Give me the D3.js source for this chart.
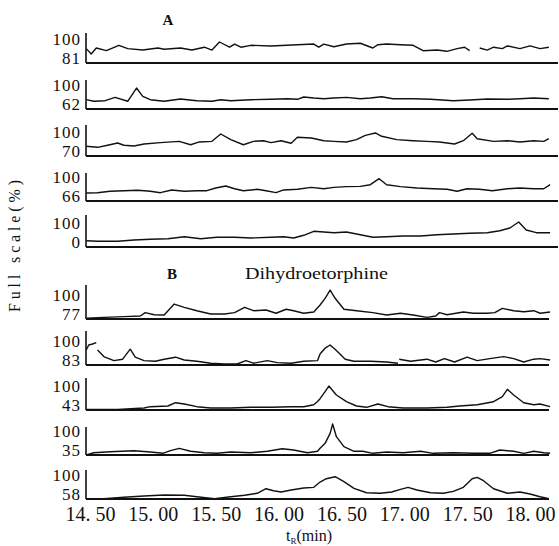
<!DOCTYPE html>
<html>
<head>
<meta charset="utf-8">
<script src="https://cdn.jsdelivr.net/npm/d3@7"></script>
<style>
  html, body { margin: 0; padding: 0; background: #fff; }
  svg text { font-family: "Liberation Serif", "DejaVu Serif", serif; fill: #111; }
</style>
</head>
<body>
<svg id="chart" width="559" height="546"></svg>
<script>
// ---- data (t in min, intensity in % full scale) ----
const xTicks = [14.5, 15.0, 15.5, 16.0, 16.5, 17.0, 17.5, 18.0];
const lowA = [81, 62, 70, 66, 0];
const lowB = [77, 83, 43, 35, 58];

const traceA1 = [[14.47,90.1],[14.51,86.7],[14.55,90.5],[14.63,88.8],[14.73,92.2],[14.80,90.1],[14.92,89.2],[15.04,90.5],[15.09,89.7],[15.22,90.5],[15.31,89.2],[15.41,91.0],[15.47,89.2],[15.53,94.3],[15.61,91.0],[15.65,93.0],[15.70,91.0],[15.78,92.2],[15.94,91.8],[16.15,92.6],[16.28,93.0],[16.32,91.0],[16.36,93.0],[16.44,91.3],[16.54,93.0],[16.65,93.5],[16.75,90.5],[16.79,92.6],[16.86,93.0],[16.97,92.6],[17.07,92.2],[17.15,88.8],[17.26,89.2],[17.34,88.4],[17.42,90.1],[17.48,91.0],[17.52,88.8],[17.56,null],[17.60,90.5],[17.66,89.2],[17.71,91.0],[17.78,90.1],[17.82,91.8],[17.92,90.1],[18.00,91.8],[18.08,90.1],[18.15,91.0]];
const traceA2 = [[14.47,74.2],[14.53,72.1],[14.62,72.9],[14.70,77.3],[14.80,72.1],[14.87,89.5],[14.92,78.6],[14.98,74.2],[15.09,72.1],[15.22,75.1],[15.35,72.9],[15.47,72.1],[15.54,74.2],[15.62,72.9],[15.78,74.2],[15.94,74.7],[16.07,75.5],[16.15,74.7],[16.20,77.7],[16.28,76.4],[16.36,75.5],[16.44,76.4],[16.54,77.3],[16.65,75.5],[16.73,76.4],[16.82,78.1],[16.91,75.5],[17.07,75.5],[17.21,74.7],[17.39,72.9],[17.52,73.8],[17.66,75.1],[17.82,74.7],[17.92,75.5],[18.03,76.4],[18.15,75.5]];
const traceA3 = [[14.47,79.4],[14.56,78.4],[14.64,80.4],[14.72,82.6],[14.77,80.4],[14.85,79.7],[14.93,81.6],[15.06,82.9],[15.21,84.2],[15.30,80.9],[15.37,83.6],[15.47,84.2],[15.54,91.3],[15.62,85.8],[15.72,80.9],[15.80,84.2],[15.88,84.8],[15.94,82.9],[16.02,84.8],[16.10,82.3],[16.15,88.1],[16.26,87.4],[16.36,84.8],[16.44,84.2],[16.54,83.6],[16.62,85.8],[16.69,90.0],[16.77,92.3],[16.82,89.1],[16.94,85.8],[17.07,84.8],[17.18,84.2],[17.28,83.6],[17.40,81.6],[17.47,84.8],[17.54,92.0],[17.58,86.7],[17.71,84.2],[17.82,84.8],[17.92,83.6],[18.03,84.8],[18.11,84.2],[18.15,86.7]];
const traceA4 = [[14.47,75.7],[14.56,76.1],[14.66,77.8],[14.77,78.5],[14.88,79.0],[14.98,77.8],[15.06,76.1],[15.15,79.4],[15.25,77.8],[15.35,78.5],[15.43,78.5],[15.50,81.8],[15.58,84.2],[15.65,80.9],[15.72,78.5],[15.83,80.2],[15.90,78.5],[15.98,76.1],[16.04,79.4],[16.15,80.2],[16.26,82.6],[16.36,80.9],[16.44,82.6],[16.54,83.4],[16.65,83.8],[16.73,85.8],[16.80,93.1],[16.86,85.8],[16.97,83.4],[17.10,81.8],[17.23,80.9],[17.34,80.2],[17.42,77.8],[17.50,80.9],[17.60,80.2],[17.70,78.5],[17.82,80.9],[17.92,81.8],[18.03,80.9],[18.11,80.9],[18.16,85.8]];
const traceA5 = [[14.47,19.7],[14.56,17.8],[14.72,17.8],[14.85,21.9],[14.98,24.1],[15.12,25.9],[15.25,32.2],[15.38,25.9],[15.51,30.3],[15.65,30.3],[15.78,28.1],[15.94,30.3],[16.04,32.2],[16.12,28.1],[16.20,36.6],[16.28,49.1],[16.36,46.9],[16.44,44.7],[16.54,46.9],[16.65,38.4],[16.75,30.3],[16.86,32.2],[16.99,34.4],[17.13,34.4],[17.26,38.4],[17.39,40.6],[17.52,42.8],[17.66,44.7],[17.76,50.9],[17.84,59.4],[17.91,78.1],[17.97,53.1],[18.05,44.7],[18.16,44.7]];

const traceB1 = [[14.47,77.5],[14.61,78.1],[14.77,78.6],[14.90,79.0],[14.94,81.3],[15.01,79.9],[15.09,79.7],[15.17,87.1],[15.25,84.9],[15.35,82.6],[15.46,80.4],[15.57,80.4],[15.65,81.3],[15.73,84.9],[15.80,82.6],[15.90,83.1],[15.98,80.9],[16.06,83.6],[16.12,82.6],[16.20,80.9],[16.28,81.7],[16.33,86.5],[16.37,91.0],[16.41,96.6],[16.45,91.0],[16.52,83.6],[16.62,82.6],[16.75,81.3],[16.86,79.7],[16.97,80.9],[17.07,79.7],[17.18,78.1],[17.25,79.0],[17.28,81.3],[17.34,79.9],[17.47,81.7],[17.55,80.9],[17.66,80.9],[17.72,81.3],[17.78,84.2],[17.87,82.6],[17.95,81.9],[18.03,82.6],[18.08,80.9],[18.16,81.7]];
const traceB2 = [[14.47,90.5],[14.49,93.0],[14.52,93.5],[14.55,94.2],[14.555,null],[14.56,90.5],[14.61,87.2],[14.69,85.2],[14.76,85.9],[14.82,90.9],[14.86,86.9],[14.93,85.2],[15.02,84.9],[15.09,85.9],[15.18,86.9],[15.25,85.5],[15.35,84.9],[15.46,83.9],[15.57,83.5],[15.67,83.5],[15.74,85.2],[15.80,83.9],[15.91,85.2],[15.99,84.2],[16.10,83.9],[16.20,84.9],[16.31,85.2],[16.33,88.5],[16.37,91.4],[16.41,93.0],[16.46,90.2],[16.53,85.9],[16.60,84.9],[16.73,84.9],[16.86,84.5],[16.95,83.9],[16.955,null],[16.96,85.9],[17.05,84.9],[17.18,85.9],[17.25,84.5],[17.32,86.2],[17.40,84.5],[17.50,86.9],[17.58,85.2],[17.68,86.2],[17.79,87.2],[17.87,86.2],[17.95,84.5],[18.03,85.9],[18.08,86.2],[18.16,85.5]];
const traceB3 = [[14.47,44.2],[14.72,44.2],[14.93,46.6],[14.98,48.9],[15.12,50.1],[15.18,56.0],[15.25,53.7],[15.35,48.9],[15.46,46.6],[15.62,46.6],[15.78,47.8],[15.94,47.8],[16.10,48.9],[16.20,48.9],[16.28,52.4],[16.31,58.0],[16.33,63.1],[16.37,75.6],[16.40,85.7],[16.46,69.7],[16.54,57.8],[16.62,50.1],[16.70,47.8],[16.79,53.7],[16.87,48.9],[16.99,46.6],[17.18,46.6],[17.34,47.8],[17.44,50.1],[17.58,52.4],[17.71,57.8],[17.78,66.7],[17.82,79.9],[17.87,69.7],[17.95,56.0],[18.03,52.4],[18.08,53.7],[18.16,48.9]];
const traceB4 = [[14.47,35.0],[14.53,40.3],[14.66,42.7],[14.85,45.0],[14.98,42.0],[15.08,38.9],[15.14,45.0],[15.21,50.5],[15.30,43.6],[15.41,40.3],[15.51,38.9],[15.62,42.0],[15.78,40.3],[15.91,43.6],[16.03,49.6],[16.12,46.6],[16.23,40.3],[16.31,43.6],[16.33,50.5],[16.37,62.1],[16.41,85.3],[16.43,106.9],[16.46,77.5],[16.52,54.3],[16.60,43.6],[16.67,43.6],[16.75,38.9],[16.86,42.0],[16.99,40.3],[17.13,43.6],[17.23,38.9],[17.39,40.3],[17.55,38.9],[17.68,38.9],[17.76,46.6],[17.87,43.6],[17.95,38.9],[18.03,43.6],[18.11,40.3],[18.16,38.9]];
const traceB5 = [[14.47,58.0],[14.61,58.4],[14.77,60.5],[14.93,62.3],[15.09,63.8],[15.25,63.4],[15.35,61.3],[15.49,58.4],[15.62,61.3],[15.73,63.4],[15.83,66.3],[15.90,72.9],[15.96,70.0],[16.02,68.1],[16.10,71.0],[16.20,73.9],[16.28,74.9],[16.33,82.6],[16.38,87.4],[16.45,90.3],[16.52,83.1],[16.60,73.5],[16.70,67.1],[16.81,66.3],[16.90,68.1],[16.97,72.0],[17.03,74.9],[17.10,71.0],[17.21,67.1],[17.31,66.3],[17.39,69.1],[17.47,74.9],[17.54,87.4],[17.58,89.4],[17.63,84.5],[17.71,72.9],[17.82,66.3],[17.92,68.1],[18.00,65.2],[18.08,61.3],[18.15,58.4]];

const tracesA = [traceA1, traceA2, traceA3, traceA4, traceA5];
const tracesB = [traceB1, traceB2, traceB3, traceB4, traceB5];

// ---- layout ----
const stripBaseA = [63, 109, 156, 201, 247];
const stripTopA = [33, 80, 125, 173, 215];
const stripBaseB = [319, 365, 410, 455, 499];
const stripTopB = [285, 331, 378, 427, 470];
const axisX = 86;

const svg = d3.select("#chart");
const x = d3.scaleLinear().domain([14.5, 18.0]).range([90, 530]);

function drawStrip(base, top, low, data, rightEnd) {
  const y = d3.scaleLinear().domain([low, 100]).range([base, top]);
  const g = svg.append("g");

  // left axis line
  g.append("line")
    .attr("x1", axisX).attr("x2", axisX)
    .attr("y1", y(100)).attr("y2", base)
    .attr("stroke", "#111").attr("stroke-width", 1.6);

  // baseline
  g.append("line")
    .attr("x1", axisX).attr("x2", rightEnd)
    .attr("y1", y(low)).attr("y2", y(low))
    .attr("stroke", "#111").attr("stroke-width", 1.8);

  // trace
  const line = d3.line()
    .defined((d) => d[1] != null)
    .x((d) => x(d[0]))
    .y((d) => y(d[1]));
  g.append("path")
    .datum(data)
    .attr("d", line)
    .attr("fill", "none")
    .attr("stroke", "#111")
    .attr("stroke-width", 1.4)
    .attr("stroke-linejoin", "round");

  // range labels
  g.append("text")
    .attr("x", 81).attr("y", base - 24)
    .attr("text-anchor", "end")
    .attr("dominant-baseline", "central")
    .attr("font-size", 17).attr("letter-spacing", 1)
    .text("100");
  g.append("text")
    .attr("x", 81).attr("y", base - 5)
    .attr("text-anchor", "end")
    .attr("dominant-baseline", "central")
    .attr("font-size", 17).attr("letter-spacing", 1)
    .text(String(low));
}

tracesA.forEach((d, i) => drawStrip(stripBaseA[i], stripTopA[i], lowA[i], d, 558));
tracesB.forEach((d, i) => drawStrip(stripBaseB[i], stripTopB[i], lowB[i], d, 549));

// x axis labels
const xAxis = d3.axisBottom(x)
  .tickValues(xTicks)
  .tickSize(0)
  .tickPadding(3)
  .tickFormat((d) => d.toFixed(2).replace(".", ". "));
const gx = svg.append("g").attr("transform", "translate(0,504)").call(xAxis);
gx.select(".domain").remove();
gx.selectAll("text")
  .attr("font-size", 20)
  .style("font-family", '"Liberation Serif", "DejaVu Serif", serif')
  .attr("fill", "#111");

// titles
svg.append("text").attr("x", 168).attr("y", 25)
  .attr("text-anchor", "middle").attr("font-size", 15).attr("font-weight", "bold")
  .text("A");
svg.append("text").attr("x", 172).attr("y", 279)
  .attr("text-anchor", "middle").attr("font-size", 15).attr("font-weight", "bold")
  .text("B");
svg.append("text").attr("x", 245).attr("y", 279)
  .attr("font-size", 16).attr("textLength", 143).attr("lengthAdjust", "spacingAndGlyphs")
  .text("Dihydroetorphine");

svg.append("text")
  .attr("transform", "translate(20,246) rotate(-90)")
  .attr("text-anchor", "middle")
  .attr("font-size", 16)
  .attr("textLength", 132).attr("lengthAdjust", "spacing")
  .text("Full scale(%)");

const xt = svg.append("text").attr("x", 309).attr("y", 541)
  .attr("text-anchor", "middle").attr("font-size", 16);
xt.append("tspan").text("t");
xt.append("tspan").attr("font-size", 9).attr("dy", 3).text("R");
xt.append("tspan").attr("dy", -3).text("(min)");
</script>
</body>
</html>
